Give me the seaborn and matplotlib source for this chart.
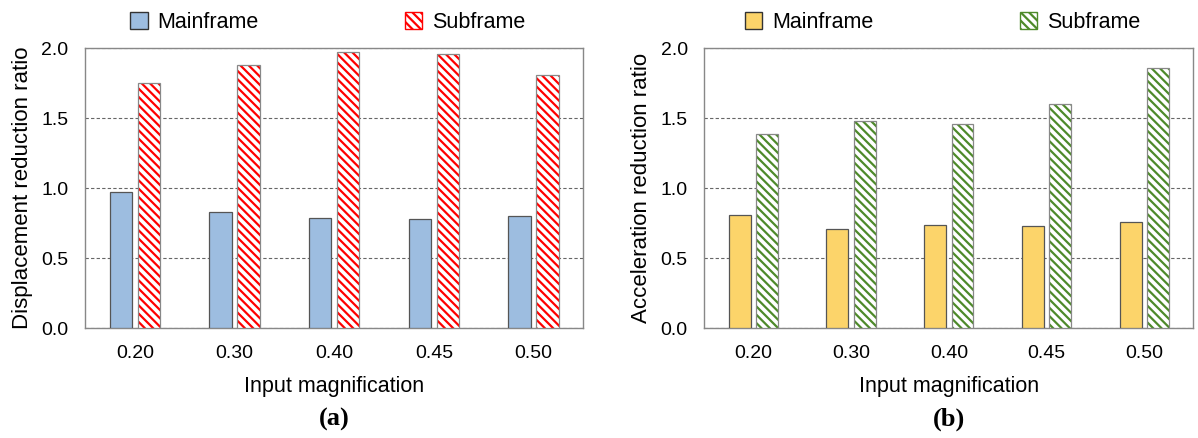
import pandas as pd
import numpy as np
import matplotlib.pyplot as plt
import matplotlib.patches as mpatches
import seaborn as sns

# Data
magnification = ["0.20", "0.30", "0.40", "0.45", "0.50"]
disp_main = [0.97, 0.83, 0.79, 0.78, 0.80]
disp_sub = [1.75, 1.88, 1.97, 1.96, 1.81]
acc_main = [0.81, 0.71, 0.74, 0.73, 0.76]
acc_sub = [1.39, 1.48, 1.46, 1.60, 1.86]
series = ["Mainframe", "Subframe"]

sns.set_style("white")
plt.rcParams["font.family"] = ["Liberation Sans", "DejaVu Sans"]
plt.rcParams["hatch.linewidth"] = 1.6
plt.rcParams["text.color"] = "black"
plt.rcParams["axes.labelcolor"] = "black"
plt.rcParams["xtick.color"] = "black"
plt.rcParams["ytick.color"] = "black"


def long_df(main, sub):
    return pd.DataFrame({
        "mag": magnification * 2,
        "ratio": list(main) + list(sub),
        "frame": [series[0]] * len(main) + [series[1]] * len(sub),
    })


def draw_panel(ax, main, sub, fill_color, hatch_color, ylabel, caption):
    df = long_df(main, sub)
    sns.barplot(data=df, x="mag", y="ratio", hue="frame", order=magnification,
                hue_order=series, palette=[fill_color, "white"], saturation=1,
                width=0.56, gap=0.2, edgecolor="#555555", linewidth=0.9,
                errorbar=None, legend=False, ax=ax, zorder=3)
    n = len(magnification)
    bars = ax.patches[:2 * n]
    for p in bars[n:]:
        # hatched fill first, then a gray outline drawn on top of it
        p.set_hatch("\\\\\\\\")
        p.set_edgecolor(hatch_color)
        p.set_linewidth(0)
        outline = mpatches.Rectangle(p.get_xy(), p.get_width(), p.get_height(),
                                     fill=False, edgecolor="#888888",
                                     linewidth=0.9, zorder=4)
        ax.add_patch(outline)

    ax.set_ylim(0, 2.0)
    ax.set_yticks([0, 0.5, 1.0, 1.5, 2.0])
    ax.set_yticklabels(["0.0", "0.5", "1.0", "1.5", "2.0"])
    ax.yaxis.grid(True, linestyle=(0, (3, 2)), color="#666666", linewidth=0.8, zorder=0)
    ax.set_axisbelow(True)
    ax.tick_params(axis="x", length=0, labelsize=14, pad=12)
    ax.tick_params(axis="y", length=0, labelsize=14, pad=12)
    ax.set_xlabel("Input magnification", fontsize=15.5, labelpad=10)
    ax.set_ylabel(ylabel, fontsize=16, labelpad=6)
    for s in ax.spines.values():
        s.set_color("#888888")
        s.set_linewidth(1.0)

    h1 = mpatches.Patch(facecolor=fill_color, edgecolor="#333333", linewidth=1.0)
    h2 = mpatches.Patch(facecolor="white", edgecolor=hatch_color, hatch="\\\\\\\\", linewidth=1.0)
    leg = ax.legend([h1, h2], series, loc="lower center", bbox_to_anchor=(0.487, 0.985),
                    ncol=2, frameon=False, fontsize=15.5, columnspacing=6.8,
                    handlelength=0.8, handleheight=0.8, handletextpad=0.45)
    leg.legend_handles[1].set_edgecolor(hatch_color)

    ax.text(0.5, -0.285, caption, transform=ax.transAxes, ha="center", va="top",
            fontsize=19, fontweight="bold", family="Liberation Serif")


fig = plt.figure(figsize=(11.98, 4.38), dpi=100)
ax1 = fig.add_axes([0.071, 0.251, 0.416, 0.639])
ax2 = fig.add_axes([0.588, 0.251, 0.408, 0.639])

draw_panel(ax1, disp_main, disp_sub, "#9dbde0", "#ff0000",
           "Displacement reduction ratio", "(a)")
draw_panel(ax2, acc_main, acc_sub, "#fcd46a", "#4e8a2a",
           "Acceleration reduction ratio", "(b)")

fig.savefig("out.png", dpi=100)
